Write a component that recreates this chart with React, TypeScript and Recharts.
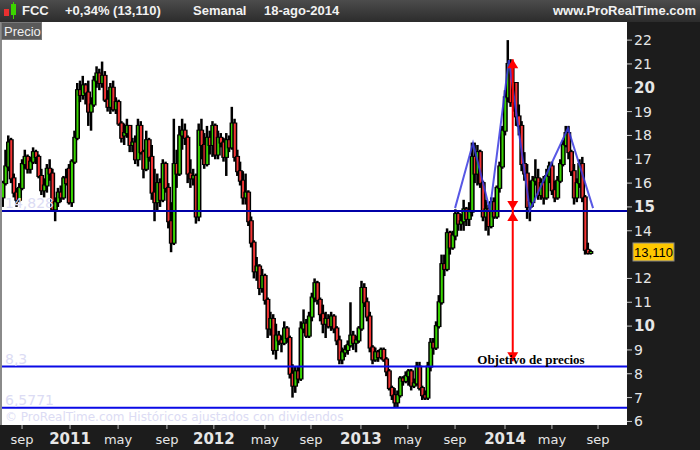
import { ComposedChart, Bar, Line, XAxis, YAxis, CartesianGrid, ReferenceLine, ReferenceDot } from 'recharts';

// FCC semanal, velas desde jul-2010 hasta 18-ago-2014
const open = [
  15.4, 16.0, 16.7, 17.8, 16.2, 15.6, 15.3, 15.8, 16.8, 17.1, 16.6, 16.9, 17.3, 17.1, 16.3, 15.7, 15.9, 16.6, 16.4, 14.9,
  15.2, 15.6, 15.4, 16.2, 16.6, 15.2, 16.9, 17.9, 19.9, 19.7, 20.1, 19.8, 19.0, 19.3, 20.3, 20.6, 20.2, 20.5, 19.5, 19.2,
  20.0, 19.1, 19.4, 18.5,
  18.0, 18.1, 18.4, 17.6, 17.7, 17.0, 18.4, 17.3, 16.6, 17.8, 17.1, 15.6, 15.2, 16.0, 15.3, 16.8, 15.8, 14.4, 13.5, 16.8,
  16.4, 18.0, 18.2, 17.9, 16.4, 16.2, 16.3, 14.6, 18.2, 17.6, 16.8, 17.9, 17.6, 18.4, 17.2, 17.9, 17.7, 17.1, 17.8, 17.5,
  18.5, 17.1, 16.5, 16.1,
  15.4, 15.6, 14.4, 13.5, 12.3, 12.5, 11.6, 12.1, 11.1, 9.9, 10.3, 9.0, 9.6, 9.4, 9.3, 9.9, 9.5, 8.0, 7.5, 8.1,
  7.8, 9.9, 10.1, 9.6, 10.4, 11.2, 11.8, 11.1, 10.5, 10.1, 10.3, 10.0, 10.4, 9.9, 9.4, 8.6, 8.9, 9.0, 9.2, 9.6,
  9.3, 9.4, 9.9, 11.6,
  11.0, 10.4, 9.1, 8.6, 8.9, 8.7, 9.0, 8.6, 8.1, 7.4, 7.1, 6.8, 7.1, 7.8, 7.7, 7.9, 8.1, 7.5, 7.6, 8.3,
  7.4, 7.1, 7.0, 8.3, 9.3, 9.1, 10.0, 11.0, 12.6, 12.4, 13.9, 13.3, 13.8, 14.7, 14.3, 14.4, 14.9, 14.5, 14.8, 17.1,
  16.4, 17.3, 16.0, 14.6,
  14.9, 14.2, 15.2, 14.6, 15.8, 16.7, 18.2, 19.6, 21.0, 19.4, 20.2, 18.8, 18.4, 16.8, 16.4, 15.0, 15.2, 16.1, 16.2, 15.5,
  16.0, 15.4, 16.3, 16.7, 15.7, 15.4, 16.1, 16.8, 17.6, 18.1, 17.3, 16.5, 15.4, 16.0, 16.8, 15.4, 13.2, 13.07,
];
const high = [
  16.1, 17.4, 18.0, 17.9, 16.4, 15.8, 16.0, 17.0, 17.4, 17.2, 17.1, 17.5, 17.4, 17.2, 16.6, 16.2, 16.8, 17.0, 16.6, 15.4,
  15.8, 15.9, 16.3, 16.6, 16.8, 17.0, 18.2, 20.2, 20.3, 20.5, 20.2, 20.3, 19.6, 20.5, 20.9, 20.8, 21.1, 20.7, 19.9, 20.2,
  20.3, 19.6, 19.5, 18.6,
  18.5, 18.7, 18.4, 17.9, 18.0, 18.7, 18.6, 17.4, 18.2, 17.9, 17.6, 16.6, 16.4, 16.2, 17.0, 16.9, 16.0, 15.2, 18.7, 17.4,
  18.4, 18.7, 18.5, 18.0, 17.0, 16.6, 16.4, 18.5, 18.7, 18.1, 18.4, 18.2, 18.6, 18.5, 18.2, 18.1, 17.9, 18.1, 18.0, 19.2,
  18.7, 17.4, 16.9, 16.5,
  16.4, 15.7, 14.6, 13.6, 12.9, 12.6, 12.4, 12.2, 11.2, 10.6, 10.5, 10.1, 9.8, 9.6, 10.2, 10.0, 9.6, 8.4, 8.3, 8.3,
  10.2, 10.7, 10.3, 10.6, 11.4, 12.0, 11.9, 11.2, 10.9, 10.6, 10.5, 10.6, 10.5, 10.0, 9.6, 9.1, 9.2, 9.4, 11.0, 9.8,
  9.6, 10.0, 11.9, 11.8,
  11.2, 10.6, 9.2, 9.1, 9.0, 9.1, 9.1, 8.7, 8.2, 7.5, 7.4, 7.3, 7.9, 7.9, 8.1, 8.2, 8.2, 7.8, 8.5, 8.5,
  7.5, 7.3, 8.5, 9.5, 9.5, 10.2, 11.3, 13.0, 13.0, 14.1, 14.0, 14.0, 14.9, 14.8, 14.7, 15.3, 15.0, 15.2, 17.7, 17.7,
  17.6, 17.4, 16.1, 15.3,
  15.1, 15.4, 15.4, 15.9, 16.9, 18.4, 19.9, 22.0, 21.2, 20.9, 20.2, 19.3, 18.6, 17.3, 16.8, 16.1, 16.3, 17.0, 16.6, 16.2,
  16.3, 16.6, 16.9, 16.9, 16.1, 16.3, 17.0, 17.8, 18.4, 18.4, 17.4, 16.8, 16.2, 17.0, 17.1, 15.5, 13.5, 13.2,
];
const low = [
  15.0, 15.9, 16.5, 16.0, 15.4, 15.0, 15.2, 15.7, 16.6, 16.4, 16.4, 16.8, 16.8, 16.2, 15.5, 15.4, 15.6, 16.1, 14.8, 14.4,
  15.0, 15.2, 15.3, 15.9, 15.1, 15.0, 16.8, 17.8, 19.4, 19.5, 19.3, 18.4, 18.2, 19.2, 20.0, 19.9, 20.0, 19.4, 19.0, 18.9,
  19.0, 18.9, 18.4, 17.7,
  17.6, 17.9, 17.3, 17.3, 16.8, 16.7, 17.2, 16.2, 16.5, 16.9, 15.3, 14.4, 14.8, 15.0, 15.2, 15.6, 14.1, 13.1, 13.4, 15.8,
  16.3, 17.4, 17.6, 16.0, 15.8, 15.9, 14.3, 14.4, 17.0, 16.6, 16.7, 17.2, 17.1, 17.0, 17.0, 17.5, 16.9, 16.3, 17.3, 17.4,
  16.9, 16.3, 15.9, 15.1,
  15.1, 14.2, 13.3, 12.0, 11.9, 11.3, 11.4, 10.9, 9.5, 9.6, 8.8, 8.6, 9.2, 8.9, 9.2, 9.3, 7.8, 7.0, 7.2, 7.6,
  7.7, 9.7, 9.5, 9.5, 10.2, 11.0, 10.9, 10.2, 9.7, 9.5, 9.9, 9.8, 9.7, 9.2, 8.4, 8.4, 8.7, 8.8, 9.1, 9.0,
  8.9, 9.3, 9.8, 10.8,
  10.2, 8.9, 8.4, 8.5, 8.5, 8.6, 8.5, 7.9, 7.3, 6.9, 6.6, 6.6, 7.0, 7.5, 7.6, 7.5, 7.3, 7.4, 7.5, 7.3,
  6.9, 6.9, 6.9, 8.1, 8.8, 9.0, 9.9, 10.9, 12.1, 12.3, 13.0, 13.2, 13.6, 14.0, 14.0, 14.0, 14.2, 14.2, 14.6, 16.0,
  15.9, 15.8, 14.4, 14.0,
  13.8, 14.1, 14.5, 14.5, 15.6, 16.6, 18.0, 19.4, 19.2, 19.0, 18.4, 18.0, 16.5, 16.1, 14.5, 14.4, 15.0, 15.9, 15.3, 15.3,
  15.1, 15.3, 16.0, 15.5, 15.2, 15.3, 16.0, 16.7, 17.5, 17.0, 16.3, 15.1, 15.2, 15.8, 15.2, 13.0, 13.0, 13.0,
];
const close = [
  16.0, 16.7, 17.7, 16.2, 15.6, 15.3, 15.8, 16.8, 17.1, 16.6, 16.9, 17.3, 17.1, 16.3, 15.7, 15.9, 16.6, 16.4, 14.9, 15.2,
  15.6, 15.4, 16.2, 16.0, 15.2, 16.9, 17.9, 19.9, 19.7, 20.1, 19.8, 19.0, 19.3, 20.3, 20.6, 20.2, 20.5, 19.5, 19.2, 20.0,
  19.1, 19.4, 18.5, 17.9,
  18.1, 18.4, 17.6, 17.7, 17.0, 18.4, 17.3, 16.6, 17.8, 17.1, 15.6, 15.2, 16.0, 15.3, 16.8, 15.8, 14.4, 13.5, 16.8, 16.4,
  18.0, 18.2, 17.9, 16.4, 16.2, 16.3, 14.6, 18.2, 17.6, 16.8, 17.9, 17.6, 18.4, 17.2, 17.9, 17.7, 17.1, 17.8, 17.5, 18.5,
  17.1, 16.5, 16.1, 15.4,
  15.6, 14.4, 13.5, 12.3, 12.5, 11.6, 12.1, 11.1, 9.9, 10.3, 9.0, 9.6, 9.4, 9.3, 9.9, 9.5, 8.0, 7.5, 8.1, 7.8,
  9.9, 10.1, 9.6, 10.4, 11.2, 11.8, 11.1, 10.5, 10.1, 10.3, 10.0, 10.4, 9.9, 9.4, 8.6, 8.9, 9.0, 9.2, 9.6, 9.3,
  9.4, 9.9, 11.6, 11.0,
  10.4, 9.1, 8.6, 8.9, 8.7, 9.0, 8.6, 8.1, 7.4, 7.1, 6.8, 7.1, 7.8, 7.7, 7.9, 8.1, 7.5, 7.6, 8.3, 7.4,
  7.1, 7.0, 8.3, 9.3, 9.1, 10.0, 11.0, 12.6, 12.4, 13.9, 13.3, 13.8, 14.7, 14.3, 14.4, 14.9, 14.5, 14.8, 17.1, 16.4,
  17.3, 16.0, 14.6, 14.9,
  14.2, 15.2, 14.6, 15.8, 16.7, 18.2, 19.6, 21.0, 19.4, 20.2, 18.8, 18.4, 16.8, 16.4, 15.0, 15.2, 16.1, 16.2, 15.5, 16.0,
  15.4, 16.3, 16.7, 15.7, 15.4, 16.1, 16.8, 17.6, 18.1, 17.3, 16.5, 15.4, 16.0, 16.8, 15.4, 13.2, 13.07, 13.11,
];

const xTickWeeks = [6.9, 24.3, 41.7, 59.4, 76.4, 94.9, 111.6, 129.7, 146.7, 163.8, 181.9, 198.9, 215.6];
const xTickLabels = ['sep', '2011', 'may', 'sep', '2012', 'may', 'sep', '2013', 'may', 'sep', '2014', 'may', 'sep'];
const priceTicks = [6, 7, 8, 9, 10, 11, 12, 14, 15, 16, 17, 18, 19, 20, 21, 22];

// soportes / objetivo
const neckline = 14.828;
const supportLevels = [8.3, 6.5771];
const levelLabels = ['8,3', '6,5771'];

// hombro-cabeza-hombro
const hsWeeks = [163.8, 170.3, 176.4, 183.3, 190.9, 204.7, 213.8];
const hsPrices = [14.95, 17.68, 14.87, 21.16, 14.87, 18.3, 14.95];

const arrowWeek = 184.7;
const arrowTop = 21.2;
const arrowBottom = 8.53;
const targetLabelWeek = 191.3;
const lastClose = 13.11;

const GREEN = '#38d400';
const RED = '#f23434';
const FONT = '"DejaVu Sans", Verdana, sans-serif';
const LABEL_FAINT = '#dcdcf4';

const weeks = close.map((c, i) => ({ i, o: open[i], h: high[i], l: low[i], c, range: [low[i], high[i]] }));
const hsLine = hsWeeks.map((w, k) => ({ i: w, v: hsPrices[k] }));

const Candle = (props: any) => {
  const { x, y, width, height, payload } = props;
  if (!payload) return null;
  const cx = x + width / 2;
  const top = Math.min(y, y + height);
  const span = Math.abs(height);
  const k = span / (payload.h - payload.l || 1);
  const bTop = top + (payload.h - Math.max(payload.o, payload.c)) * k;
  const bBot = top + (payload.h - Math.min(payload.o, payload.c)) * k;
  const up = payload.c >= payload.o;
  return (
    <g>
      <rect x={cx - 1.5} y={top} width={2.5} height={Math.max(span, 1)} fill="#000" />
      <rect x={cx - 2.5} y={bTop - 1} width={5} height={Math.max(bBot - bTop + 2, 2)} fill="#000" />
      <rect x={cx - 1} y={bTop} width={2} height={Math.max(bBot - bTop, 0.5)} fill={up ? GREEN : RED} />
    </g>
  );
};

const arrowHead = (dir: 'up' | 'down') => (p: any) => {
  const { cx, cy } = p;
  const h = 9;
  const w = 5.5;
  const pts =
    dir === 'up'
      ? `${cx},${cy} ${cx - w},${cy + h} ${cx + w},${cy + h}`
      : `${cx},${cy} ${cx - w},${cy - h} ${cx + w},${cy - h}`;
  return <polygon points={pts} fill="#ff0000" />;
};

const PriceTick = ({ x, y, payload }: any) => {
  const v = payload.value;
  const bold = v % 5 === 0;
  return (
    <text x={x} y={y} dy={5} fill="#e6e6e6" fontSize={bold ? 15 : 14} fontWeight={bold ? 'bold' : 'normal'} fontFamily={FONT} textAnchor="start">
      {v}
    </text>
  );
};

const DateTick = ({ x, y, index }: any) => {
  const label = xTickLabels[index] ?? '';
  const isYear = /^\d+$/.test(label);
  return (
    <text x={x} y={y} dy={13} fill="#e6e6e6" fontSize={isYear ? 15 : 13} fontWeight={isYear ? 'bold' : 'normal'} fontFamily={FONT} textAnchor="middle">
      {label}
    </text>
  );
};

const PriceTag = ({ cx, cy }: any) => (
  <g>
    <rect x={cx + 6} y={cy - 9} width={41} height={18} fill="#ffc800" stroke="#8a8a8a" />
    <text x={cx + 26.5} y={cy + 5} fill="#000" fontSize={13} fontFamily='"Liberation Sans", Arial, sans-serif' textAnchor="middle">
      {lastClose.toFixed(3).replace('.', ',')}
    </text>
  </g>
);

const TargetText = ({ cx, cy }: any) => (
  <text x={cx} y={cy - 3} fill="#000" fontSize={13} fontWeight="bold" fontFamily='"Liberation Serif", "Times New Roman", serif' textAnchor="middle">
    Objetivo de precios
  </text>
);

const headerText = { position: 'absolute' as const, top: 3, color: '#f2f2f2', fontSize: 13, fontWeight: 'bold' as const, fontFamily: '"Liberation Sans", Arial, sans-serif' };

const App = () => {
  return (
    <div style={{ position: 'relative', width: 700, height: 450, background: '#1c1c1c', overflow: 'hidden' }}>
      <style>{'body{margin:0}'}</style>
      <div style={{ position: 'absolute', top: 0, left: 0, width: 700, height: 22, background: 'linear-gradient(#4c4c4c, #2c2c2c)' }}>
        <svg width={16} height={18} style={{ position: 'absolute', left: 3, top: 2 }}>
          <rect x={1} y={7} width={5} height={7} fill="#e83030" />
          <rect x={8} y={2} width={5} height={11} fill="#3cd400" />
          <line x1={10.5} y1={0} x2={10.5} y2={17} stroke="#3cd400" strokeWidth={1} />
        </svg>
        <span style={{ ...headerText, left: 22 }}>FCC</span>
        <span style={{ ...headerText, left: 65 }}>+0,34% (13,110)</span>
        <span style={{ ...headerText, left: 193 }}>Semanal</span>
        <span style={{ ...headerText, left: 264 }}>18-ago-2014</span>
        <span style={{ ...headerText, right: 4 }}>www.ProRealTime.com</span>
      </div>
      <div style={{ position: 'absolute', top: 22 }}>
        <ComposedChart width={700} height={428} data={weeks} margin={{ top: 0, right: 0, left: 2, bottom: 0 }}>
          <CartesianGrid fill="#ffffff" horizontal={false} vertical={false} />
          <XAxis
            dataKey="i"
            type="number"
            domain={[-0.36, 226.1]}
            allowDataOverflow
            ticks={xTickWeeks}
            tick={<DateTick />}
            tickLine={{ stroke: '#bbbbbb' }}
            tickSize={4}
            axisLine={false}
            height={25}
            interval={0}
          />
          <YAxis
            orientation="right"
            type="number"
            domain={[5.85, 22.76]}
            allowDataOverflow
            ticks={priceTicks}
            tick={<PriceTick />}
            tickLine={{ stroke: '#cccccc' }}
            tickSize={5}
            tickMargin={2}
            axisLine={false}
            width={73}
            interval={0}
          />
          <ReferenceLine
            y={neckline}
            stroke="#0000a8"
            strokeWidth={2}
            label={{ value: '14,828', position: 'insideBottomLeft', offset: 3, fill: LABEL_FAINT, fontSize: 14, fontFamily: FONT }}
          />
          {supportLevels.map((lv, k) => (
            <ReferenceLine
              key={lv}
              y={lv}
              stroke="#0a0ae6"
              strokeWidth={2}
              label={{ value: levelLabels[k], position: 'insideBottomLeft', offset: 3, fill: LABEL_FAINT, fontSize: 14, fontFamily: FONT }}
            />
          ))}
          <Bar dataKey="range" barSize={3} shape={<Candle />} isAnimationActive={false} />
          <Line
            data={hsLine}
            dataKey="v"
            stroke="#3b3be0"
            strokeOpacity={0.85}
            strokeWidth={2}
            dot={false}
            type="linear"
            isAnimationActive={false}
          />
          <ReferenceLine
            segment={[
              { x: arrowWeek, y: arrowTop },
              { x: arrowWeek, y: arrowBottom },
            ]}
            stroke="#ff0000"
            strokeWidth={2}
          />
          <ReferenceDot x={arrowWeek} y={arrowTop} shape={arrowHead('up')} />
          <ReferenceDot x={arrowWeek} y={14.87} shape={arrowHead('down')} />
          <ReferenceDot x={arrowWeek} y={14.79} shape={arrowHead('up')} />
          <ReferenceDot x={arrowWeek} y={arrowBottom} shape={arrowHead('down')} />
          <ReferenceDot x={targetLabelWeek} y={supportLevels[0]} shape={<TargetText />} />
          <ReferenceDot x={226.1} y={lastClose} shape={<PriceTag />} />
        </ComposedChart>
      </div>
      <div style={{ position: 'absolute', left: 0, top: 22, width: 2, height: 403, background: '#8a8a8a' }} />
      <div
        style={{
          position: 'absolute',
          left: 1,
          top: 22,
          width: 41,
          height: 18,
          background: '#5a5a5a',
          border: '1px solid #7a7a7a',
          color: '#f0f0f0',
          fontSize: 13,
          lineHeight: '18px',
          paddingLeft: 2,
          boxSizing: 'border-box',
          fontFamily: '"Liberation Sans", Arial, sans-serif',
        }}
      >
        Precio
      </div>
      <div style={{ position: 'absolute', left: 5, top: 410, color: LABEL_FAINT, fontSize: 12, fontFamily: FONT, whiteSpace: 'nowrap' }}>
        © ProRealTime.com  Históricos ajustados con dividendos
      </div>
    </div>
  );
};

export default App;
